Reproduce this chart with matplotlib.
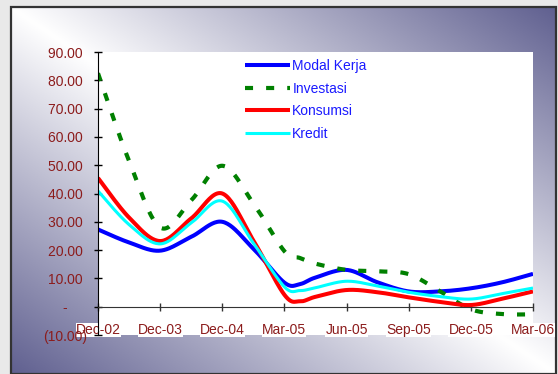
import numpy as np
import matplotlib
matplotlib.use('Agg')
import matplotlib.pyplot as plt
from matplotlib.patches import Rectangle

plt.rcParams['font.family'] = ['Liberation Sans', 'DejaVu Sans']
plt.rcParams['lines.scale_dashes'] = False

# category labels (equally spaced) and positions of the read-off points
tick_labels = ['Dec-02', 'Dec-03', 'Dec-04', 'Mar-05', 'Jun-05', 'Sep-05', 'Dec-05', 'Mar-06']
xpos = [0, 0.5, 1, 1.5, 2, 2.5, 3, 3.25, 3.5, 4, 4.5, 5, 5.5, 6, 6.5, 7]

modal_kerja = [27.3, 22.7, 19.8, 24.7, 30.0, 20.5, 8.5, 8.0, 10.3, 13.0, 8.6, 5.4, 5.4, 6.5, 8.6, 11.6]
investasi = [82.5, 51.5, 28.0, 37.6, 49.8, 36.5, 19.6, 17.2, 15.2, 13.0, 12.5, 11.5, 5.5, -0.9, -2.6, -2.7]
konsumsi = [45.5, 31.5, 23.2, 31.2, 40.0, 23.4, 4.2, 1.9, 3.5, 5.9, 5.1, 3.3, 1.7, 0.6, 2.8, 5.4]
kredit = [40.9, 29.0, 22.2, 29.6, 37.3, 22.5, 7.0, 5.7, 6.7, 9.0, 7.3, 5.1, 3.6, 2.7, 4.6, 6.6]

ytick_vals = [-10, 0, 10, 20, 30, 40, 50, 60, 70, 80, 90]
ytick_text = ['(10.00)', '-     ', '10.00 ', '20.00 ', '30.00 ', '40.00 ', '50.00 ',
              '60.00 ', '70.00 ', '80.00 ', '90.00 ']


def smooth(x, y, n=24):
    # catmull-rom curve through the points, like excel's smoothed line
    p = np.column_stack([x, y]).astype(float)
    p = np.vstack([p[0], p, p[-1]])
    out = []
    t = np.linspace(0, 1, n, endpoint=False)[:, None]
    for i in range(1, len(p) - 2):
        p0, p1, p2, p3 = p[i - 1], p[i], p[i + 1], p[i + 2]
        m1 = (p2 - p0) / 2.0
        m2 = (p3 - p1) / 2.0
        h00 = 2 * t**3 - 3 * t**2 + 1
        h10 = t**3 - 2 * t**2 + t
        h01 = -2 * t**3 + 3 * t**2
        h11 = t**3 - t**2
        out.append(h00 * p1 + h10 * m1 + h01 * p2 + h11 * m2)
    out.append(p[-2][None, :])
    out = np.vstack(out)
    return out[:, 0], out[:, 1]


fig = plt.figure(figsize=(5.58, 3.74), dpi=100)
fig.patch.set_facecolor('#e9e9e9')

# gradient panel behind the chart
W, H = 558.0, 374.0
x0, y0, x1, y1 = 11, 7, 556, 374
bg = fig.add_axes([x0 / W, 1 - y1 / H, (x1 - x0) / W, (y1 - y0) / H])
u = np.linspace(0, 1, 300)[None, :]
v = np.linspace(0, 1, 200)[:, None]
tt = np.abs(u - v)
light = np.array([1.0, 1.0, 1.0])
dark = np.array([0x60, 0x60, 0x90]) / 255.0
img = light[None, None, :] * (1 - tt[..., None]) + dark[None, None, :] * tt[..., None]
bg.imshow(img, aspect='auto', extent=[0, 1, 0, 1], origin='upper')
bg.set_xlim(0, 1)
bg.set_ylim(0, 1)
bg.axis('off')
bg.add_patch(Rectangle((0, 0), 1, 1, transform=bg.transAxes, fill=False,
                       edgecolor='#333333', lw=1.6, clip_on=False))

ax = fig.add_axes([98 / W, 1 - 335 / H, 435 / W, 283 / H])
ax.set_facecolor('white')

lab_col = '#8c1c1c'

xs, ys = smooth(xpos, modal_kerja)
ax.plot(xs, ys, color='#0000ff', lw=2.9, label='Modal Kerja', solid_capstyle='butt')
xs, ys = smooth(xpos, investasi)
ax.plot(xs, ys, color='#008000', lw=3.0, dashes=(5.8, 9.4), label='Investasi',
        dash_capstyle='butt')
xs, ys = smooth(xpos, konsumsi)
ax.plot(xs, ys, color='#ff0000', lw=2.9, label='Konsumsi', solid_capstyle='butt')
xs, ys = smooth(xpos, kredit)
ax.plot(xs, ys, color='#00ffff', lw=2.2, label='Kredit', solid_capstyle='butt')

ax.set_xlim(0, 7)
ax.set_ylim(-10, 90)

for s in ['top', 'right']:
    ax.spines[s].set_visible(False)
ax.spines['bottom'].set_position(('data', 0))
ax.spines['bottom'].set_color('#333333')
ax.spines['left'].set_color('black')

ax.set_xticks(range(len(tick_labels)))
ax.set_xticklabels(tick_labels)
ax.set_yticks(ytick_vals)
ax.set_yticklabels(ytick_text)
ax.tick_params(axis='x', direction='inout', length=6, width=1, color='#333333',
               labelsize=10, labelcolor=lab_col, pad=9)
ax.tick_params(axis='y', direction='inout', length=6, width=1, color='black',
               labelsize=10, labelcolor=lab_col, pad=5)
for t in ax.get_xticklabels():
    t.set_bbox(dict(facecolor='white', edgecolor='none', pad=0))

leg = ax.legend(loc='upper left', bbox_to_anchor=(0.338, 0.975), frameon=False,
                fontsize=10, labelcolor='#1a1aff', handlelength=3.25,
                handletextpad=0.15, labelspacing=0.62, borderpad=0, borderaxespad=0)

fig.savefig('out.png', dpi=100, facecolor=fig.get_facecolor())
